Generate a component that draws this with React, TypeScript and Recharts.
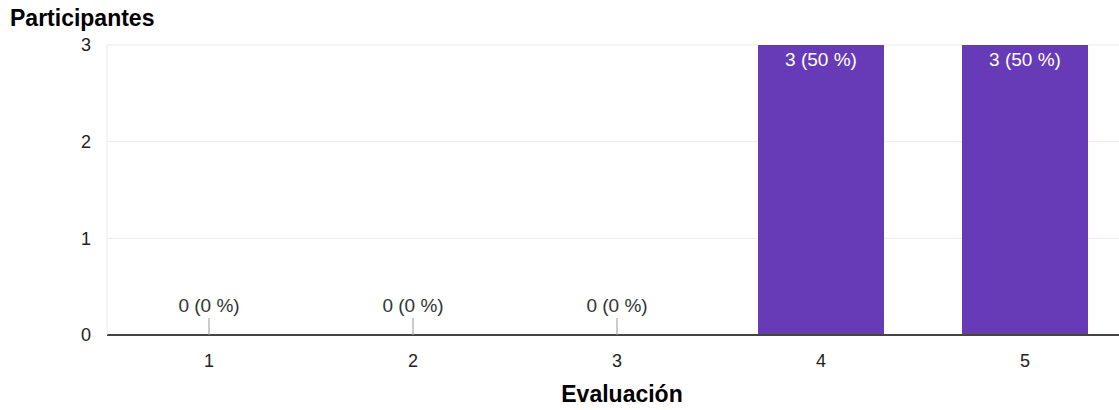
import React from 'react';
import { BarChart, Bar, XAxis, YAxis, CartesianGrid, LabelList } from 'recharts';

const categories = ['1', '2', '3', '4', '5'];
const participants = [0, 0, 0, 3, 3];
const yTicks = [0, 1, 2, 3];

const total = participants.reduce((a, b) => a + b, 0);
const data = categories.map((name, i) => ({
  name,
  value: participants[i],
}));

const FONT = '"Liberation Sans", Arial, sans-serif';

const BarLabel = (props: any) => {
  const { x, y, width, height, value } = props;
  const v = Number(value);
  const pct = total ? Math.round((v / total) * 100) : 0;
  const cx = x + width / 2;
  const text = `${v} (${pct} %)`;
  if (v === 0) {
    const base = y + height;
    return (
      <g>
        <line x1={cx} x2={cx} y1={base - 17} y2={base} stroke="#999" strokeWidth={1} />
        <text x={cx} y={base - 23} textAnchor="middle" fontSize={19} fill="#333" fontFamily={FONT}>
          {text}
        </text>
      </g>
    );
  }
  return (
    <text x={cx} y={y + 21} textAnchor="middle" fontSize={19} fill="#fff" fontFamily={FONT}>
      {text}
    </text>
  );
};

export default function App() {
  return (
    <div
      style={{
        position: 'absolute',
        left: 0,
        top: 0,
        width: 1119,
        height: 410,
        overflow: 'hidden',
        background: '#fff',
        fontFamily: FONT,
      }}
    >
      <div
        style={{
          position: 'absolute',
          left: 10,
          top: 4,
          fontSize: 23,
          lineHeight: '28px',
          fontWeight: 'bold',
          color: '#000',
        }}
      >
        Participantes
      </div>
      <BarChart
        width={1127}
        height={410}
        data={data}
        margin={{ top: 45, right: 0, bottom: 0, left: 0 }}
      >
        <CartesianGrid horizontal vertical={false} stroke="#ebebeb" />
        <XAxis
          dataKey="name"
          height={75}
          tickSize={0}
          tickMargin={19}
          axisLine={{ stroke: '#444', strokeWidth: 2 }}
          tick={{ fontSize: 18, fill: '#222', fontFamily: FONT }}
          label={{
            value: 'Evaluación',
            position: 'insideBottom',
            offset: 8,
            dx: 5,
            style: { fontSize: 23, fontWeight: 'bold', fill: '#000', fontFamily: FONT },
          }}
        />
        <YAxis
          width={107}
          domain={[0, 3]}
          ticks={yTicks}
          tickSize={0}
          tickMargin={16}
          axisLine={{ stroke: '#ebebeb' }}
          tick={{ fontSize: 18, fill: '#222', fontFamily: FONT }}
        />
        <Bar dataKey="value" fill="#673ab7" barSize={126} minPointSize={1} isAnimationActive={false}>
          <LabelList dataKey="value" content={<BarLabel />} />
        </Bar>
      </BarChart>
    </div>
  );
}
